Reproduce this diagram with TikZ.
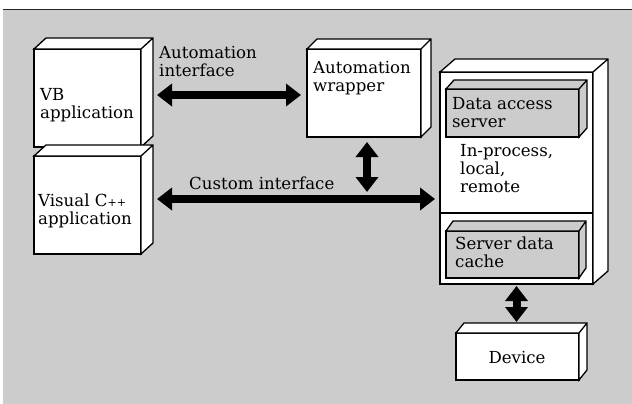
\documentclass[tikz,border=0pt]{standalone}
\usepackage{fontspec}
\setmainfont{DejaVu Serif}
\usetikzlibrary{arrows.meta, calc}

% front face of a block, and the two faces seen behind it
\tikzset{
  face/.style={draw, line width=1.3pt, fill=white, inner sep=0pt, outer sep=0pt, anchor=north west},
  grayface/.style={face, fill=gray!40},
  lbl/.style={anchor=base west, align=left, inner sep=0pt, font=\fontsize{16.6}{18}\selectfont},
  dbl/.style={line width=8pt, {Triangle[length=15pt,width=22pt]}-{Triangle[length=15pt,width=22pt]}}
}
\newcommand\blockdepth[4]{%
  \draw[line width=1.3pt, line join=miter, fill=#4] (#1.north west) -- ++(#2,-#3)
    -- ($(#1.north east)+(#2,-#3)$) -- ($(#1.south east)+(#2,-#3)$)
    -- (#1.south east) -- (#1.north east) -- cycle
    (#1.north east) -- ++(#2,-#3);}

\begin{document}
\begin{tikzpicture}[x=1pt, y=-1pt]
    \useasboundingbox (0,0) rectangle (632,404);
    % background
    \fill[gray!40] (3,10) rectangle (632,404);
    \draw[line width=1pt, black!85] (3,10) -- (632,10);

    % client applications
    \node[face, minimum width=107pt, minimum height=98pt] (vb) at (34,49) {};
    \blockdepth{vb}{12}{11}{white}
    \node[face, minimum width=107pt, minimum height=98pt] (vc) at (34,156) {};
    \blockdepth{vc}{12}{11}{white}
    \node[lbl] at (40,118) {VB\\application};
    \node[lbl] at (38,224) {Visual C{\fontsize{11}{11}\selectfont++}\\application};

    % automation wrapper
    \node[face, minimum width=114pt, minimum height=88pt] (wrap) at (307,49) {};
    \blockdepth{wrap}{10}{10}{white}
    \node[lbl] at (313,92) {Automation\\wrapper};

    % server with its two parts
    \node[face, minimum width=153pt, minimum height=212pt] (srv) at (440,72) {};
    \blockdepth{srv}{15}{13}{white}
    \draw[line width=2.2pt] (440,213) -- (593,213);
    \node[grayface, minimum width=133pt, minimum height=48pt] (das) at (446,89) {};
    \blockdepth{das}{8}{9}{gray!40}
    \node[lbl] at (452,127) {Data access\\server};
    \node[lbl] at (460,192) {In-process,\\local,\\remote};
    \node[grayface, minimum width=133pt, minimum height=47pt] (cache) at (446,231) {};
    \blockdepth{cache}{7}{10}{gray!40}
    \node[lbl] at (455,267) {Server data\\cache};

    % device
    \node[face, minimum width=123pt, minimum height=47pt] (dev) at (456,333) {};
    \blockdepth{dev}{8}{10}{white}
    \node[lbl, anchor=base] at (517,363) {Device};

    % interfaces
    \coordinate (ai) at ($(vb.east)+(16,-3)$);
    \draw[dbl] (ai) -- ($(wrap.west |- ai)+(-6,0)$);
    \node[lbl] at (159,77) {Automation\\interface};
    \coordinate (ci) at ($(vc.east)+(16,-6)$);
    \draw[dbl] (ci) -- ($(srv.west |- ci)+(-5,0)$);
    \node[lbl] at (189,189) {Custom interface};
    \draw[dbl] ($(wrap.south)+(3,5)$) -- ($(wrap.south |- ci)+(3,-7)$);
    \draw[dbl] ($(srv.south)+(0,2)$) -- ($(dev.north)+(-1,-11)$);
\end{tikzpicture}
\end{document}
